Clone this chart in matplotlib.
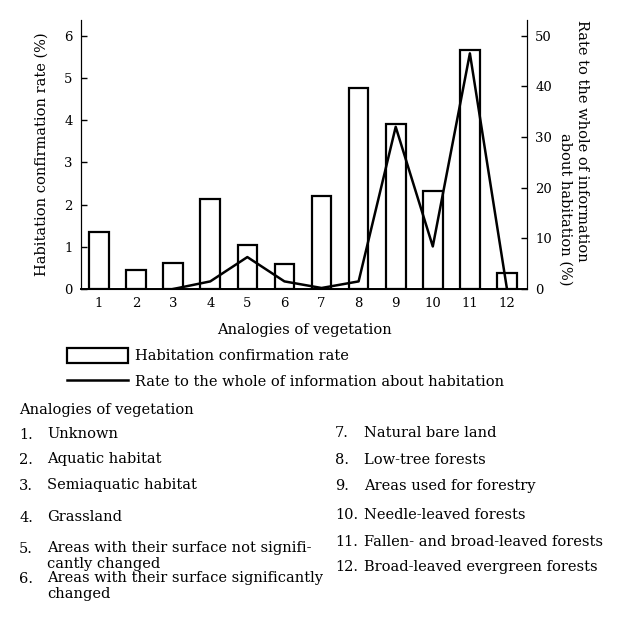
import matplotlib
matplotlib.use('Agg')
import matplotlib.pyplot as plt

plt.rcParams['font.family'] = 'DejaVu Serif'

# data
categories = [1, 2, 3, 4, 5, 6, 7, 8, 9, 10, 11, 12]
confirmation_rate = [1.35, 0.45, 0.62, 2.13, 1.05, 0.6, 2.2, 4.75, 3.9, 2.33, 5.65, 0.37]  # %
line_categories = [3, 4, 5, 6, 7, 8, 9, 10, 11, 12]
info_rate = [0, 1.5, 6.3, 1.5, 0.2, 1.5, 32, 8.4, 46.5, 0]  # %

left_ticks = [0, 1, 2, 3, 4, 5, 6]
right_ticks = [0, 10, 20, 30, 40, 50]

bar_label = 'Habitation confirmation rate'
line_label = 'Rate to the whole of information about habitation'

left_items = ['1.', '2.', '3.', '4.', '5.', '6.']
left_texts = ['Unknown', 'Aquatic habitat', 'Semiaquatic habitat', 'Grassland',
              'Areas with their surface not signifi-\ncantly changed',
              'Areas with their surface significantly\nchanged']
right_items = ['7.', '8.', '9.', '10.', '11.', '12.']
right_texts = ['Natural bare land', 'Low-tree forests', 'Areas used for forestry',
               'Needle-leaved forests', 'Fallen- and broad-leaved forests',
               'Broad-leaved evergreen forests']

W, H = 626, 620
FS = 10.55
fig = plt.figure(figsize=(W / 100, H / 100), dpi=100)
ax = fig.add_axes([81 / W, 1 - 289 / H, (527 - 81) / W, (289 - 20) / H])

bars = ax.bar(categories, confirmation_rate, width=0.53, facecolor='white',
              edgecolor='black', linewidth=1.6, label=bar_label, zorder=2)
ax.set_xlim(0.515, 12.54)
ax.set_ylim(0, 6.37)
ax.set_xticks(categories)
ax.set_yticks(left_ticks)
ax.tick_params(direction='in', length=4, width=1, labelsize=9.5, pad=6)
ax.spines['top'].set_visible(False)
ax.spines['bottom'].set_linewidth(1.4)
ax.set_ylabel('Habitation confirmation rate (%)', fontsize=FS, labelpad=11)
ax.set_xlabel('Analogies of vegetation', fontsize=FS, labelpad=9)

ax2 = ax.twinx()
line, = ax2.plot(line_categories, info_rate, color='black', linewidth=1.8,
                 label=line_label, zorder=3)
ax2.set_ylim(0, 6.37 * 50 / 6)
ax2.set_yticks(right_ticks)
ax2.tick_params(direction='in', length=4, width=1, labelsize=9.5, pad=6)
ax2.spines['top'].set_visible(False)

fig.text(582 / W, 1 - 20 / H, 'Rate to the whole of information', rotation=-90,
         fontsize=FS, ha='center', va='top')
fig.text(565 / W, 1 - 133 / H, 'about habitation (%)', rotation=-90,
         fontsize=FS, ha='center', va='top')

fig.legend(handles=[bars, line], loc='upper left',
           bbox_to_anchor=(67 / W, 1 - 348 / H), frameon=False,
           fontsize=FS, handlelength=4.15, handleheight=1.15,
           handletextpad=0.5, labelspacing=0.72, borderpad=0, borderaxespad=0)

fig.text(19 / W, 1 - 410 / H, 'Analogies of vegetation', fontsize=FS, va='center')

left_y = [435, 460, 486, 518, 549, 579]
right_y = [433, 460, 486, 515, 542, 567]
for num, txt, y in zip(left_items, left_texts, left_y):
    fig.text(19 / W, 1 - y / H, num, fontsize=FS, va='center')
    fig.text(47 / W, 1 - (y - 8) / H, txt, fontsize=FS, va='top', linespacing=1.15)
for num, txt, y in zip(right_items, right_texts, right_y):
    fig.text(335 / W, 1 - y / H, num, fontsize=FS, va='center')
    fig.text(364 / W, 1 - y / H, txt, fontsize=FS, va='center')

fig.savefig('out.png', dpi=100)
